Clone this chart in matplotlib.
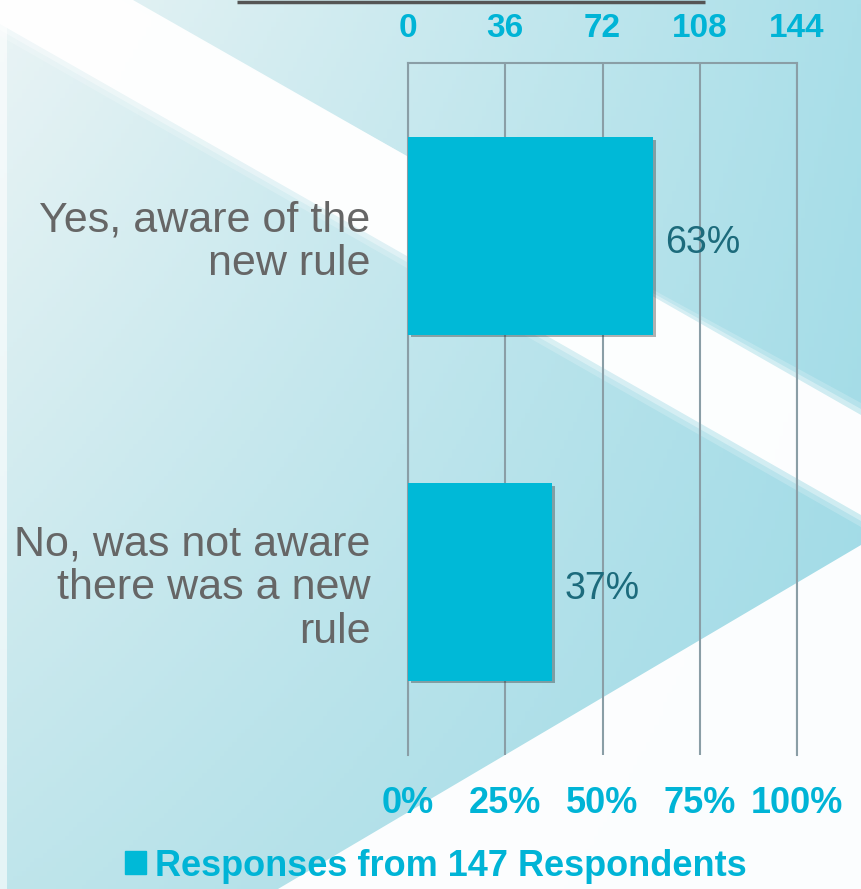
import matplotlib
matplotlib.use('Agg')
import matplotlib.pyplot as plt
import matplotlib.patheffects as pe
from matplotlib.colors import to_rgb
from matplotlib.patches import Polygon, Patch
import numpy as np

# data
categories = ["Yes, aware of the\nnew rule",
              "No, was not aware\nthere was a new\nrule"]
percent = [63, 37]
pct_ticks = [0, 25, 50, 75, 100]
count_ticks = [0, 36, 72, 108, 144]
n_respondents = 147

W, H = 861, 889
plt.rcParams['font.family'] = ['Liberation Sans', 'DejaVu Sans']

fig = plt.figure(figsize=(W / 100, H / 100), dpi=100)

# background: soft cyan gradient with white diagonal shapes
bg = fig.add_axes([0, 0, 1, 1], zorder=-5)
bg.set_xlim(0, W)
bg.set_ylim(H, 0)
bg.axis('off')
tl, tr = np.array(to_rgb('#eaf4f5')), np.array(to_rgb('#aadfe9'))
bl, br = np.array(to_rgb('#bfe5eb')), np.array(to_rgb('#9fdae6'))
u = np.linspace(0, 1, 200)[None, :, None]
v = np.linspace(0, 1, 200)[:, None, None]
grad = (1 - v) * ((1 - u) * tl + u * tr) + v * ((1 - u) * bl + u * br)
bg.imshow(grad, extent=(0, W, H, 0), aspect='auto')
for grow, a in [(12, 0.2), (6, 0.35), (0, 0.95)]:
    bg.add_patch(Polygon([(0, 0), (133 - grow, 0), (W, 415 - grow),
                          (W, 515 + grow), (0, 24 + grow)],
                         closed=True, fc='white', ec='none', alpha=a))
bg.add_patch(Polygon([(W, 545), (W, H), (278, H)], closed=True,
                     fc='white', ec='none', alpha=0.97))
bg.add_patch(Polygon([(0, 0), (7, 0), (7, H), (0, H)], closed=True,
                     fc='white', ec='none', alpha=0.6))
# bottom edge of the cut-off title box
bg.plot([237, 705], [1.5, 1.5], color='#555555', lw=2.5, solid_capstyle='butt')

ax = fig.add_axes([408 / W, 1 - 755 / H, 389 / W, 692 / H])
ax.set_facecolor('none')

y = np.arange(len(categories))
bar_color = '#00B9D7'
bars = ax.barh(y, percent, height=0.57, color=bar_color, zorder=3)
for b in bars:
    b.set_path_effects([pe.SimplePatchShadow(offset=(2, -2), shadow_rgbFace='#222222', alpha=0.35),
                        pe.Normal()])
for yi, p in zip(y, percent):
    ax.annotate(f"{p}%", (p, yi), xytext=(9, -5), textcoords='offset points',
                va='center', ha='left', fontsize=27, color='#1c6b7c', zorder=4)

ax.set_xlim(0, 100)
ax.set_ylim(1.5, -0.5)
ax.set_xticks(pct_ticks)
ax.set_xticklabels([f"{t}%" for t in pct_ticks])
ax.set_yticks(y)
ax.set_yticklabels(categories, linespacing=1.12, ha='right')
ax.tick_params(axis='x', length=0, pad=22, labelsize=26, labelcolor='#00B4D6')
ax.tick_params(axis='y', length=0, pad=27, labelsize=31, labelcolor='#666666')
for lab in ax.get_xticklabels():
    lab.set_fontweight('bold')
for lab in ax.get_yticklabels():
    lab.set_multialignment('right')

ax.grid(axis='x', color='#8A9EA6', lw=1.5, zorder=1)
ax.grid(axis='y', visible=False)
for s in ['left', 'top', 'right']:
    ax.spines[s].set_color('#8A9EA6')
    ax.spines[s].set_linewidth(1.5)
ax.spines['bottom'].set_visible(False)

sec = ax.secondary_xaxis('top', functions=(lambda x: x * 1.44, lambda x: x / 1.44))
sec.set_xticks(count_ticks)
sec.tick_params(length=0, pad=14, labelsize=24, labelcolor='#00B4D6')
for lab in sec.get_xticklabels():
    lab.set_fontweight('bold')
for s in sec.spines.values():
    s.set_visible(False)

handle = Patch(color=bar_color)
fig.legend([handle], [f"Responses from {n_respondents} Respondents"], loc='center',
           bbox_to_anchor=(436 / W, 1 - 866 / H), frameon=False,
           handlelength=0.6, handleheight=0.6, handletextpad=0.25,
           prop={'size': 26, 'weight': 'bold'}, labelcolor='#00B4D6')

fig.savefig('out.png', dpi=100)
